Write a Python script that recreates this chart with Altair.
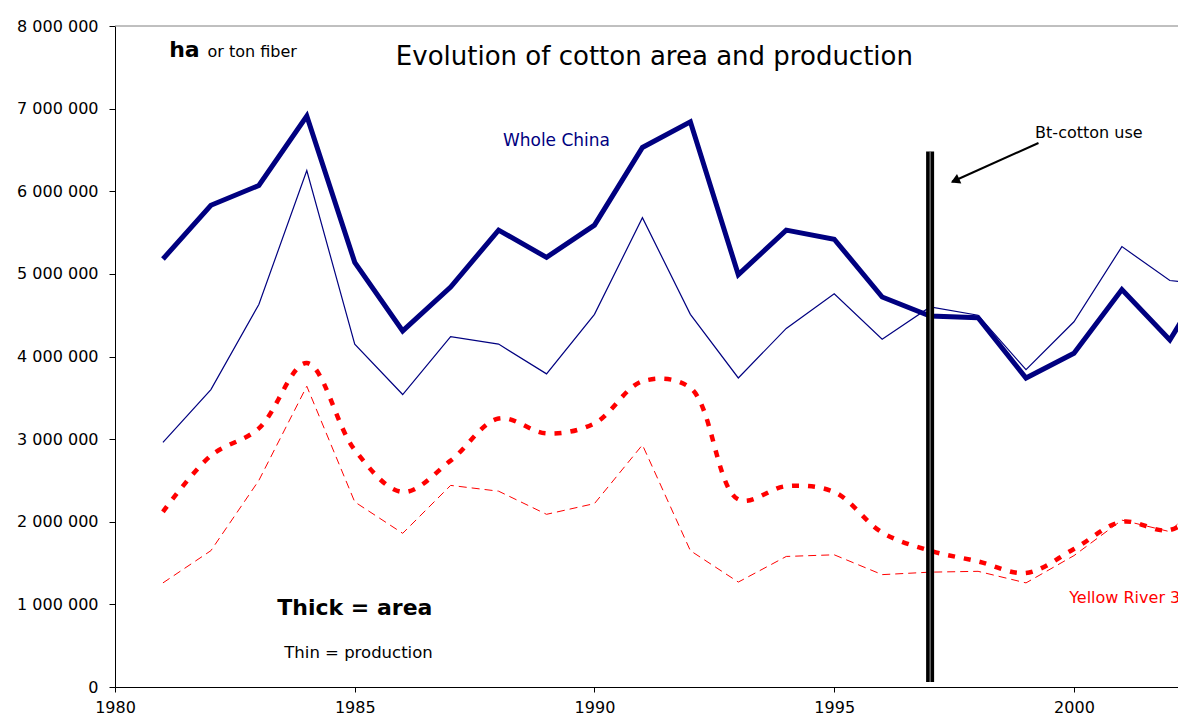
import altair as alt
import pandas as pd

# ---------------- data ----------------
years = list(range(1981, 2004))
china_area = [5.18, 5.83, 6.07, 6.91, 5.14, 4.31, 4.84, 5.53, 5.20, 5.59, 6.53, 6.84,
              4.99, 5.53, 5.42, 4.72, 4.49, 4.47, 3.74, 4.04, 4.81, 4.20, 5.15]
china_prod = [2.96, 3.60, 4.63, 6.25, 4.15, 3.54, 4.24, 4.15, 3.79, 4.51, 5.68, 4.51,
              3.74, 4.34, 4.76, 4.21, 4.60, 4.50, 3.84, 4.42, 5.33, 4.92, 4.86]
yr_area = [2.12, 2.80, 3.13, 3.92, 2.87, 2.36, 2.74, 3.25, 3.07, 3.19, 3.70, 3.62,
           2.27, 2.43, 2.36, 1.87, 1.65, 1.52, 1.38, 1.67, 2.00, 1.90, 2.30]
yr_prod = [1.26, 1.65, 2.50, 3.64, 2.24, 1.86, 2.44, 2.37, 2.09, 2.22, 2.93, 1.65,
           1.27, 1.58, 1.60, 1.36, 1.39, 1.40, 1.26, 1.59, 2.02, 1.88, 2.45]
x_ticks = [1980, 1985, 1990, 1995, 2000]
y_ticks = [0, 1000000, 2000000, 3000000, 4000000, 5000000, 6000000, 7000000, 8000000]
bt_year = 1997

FONT = "DejaVu Sans"
NAVY = "#000080"
RED = "#FF0000"

xs = alt.Scale(domain=[1980, 2002.17], nice=False, zero=False)
ys = alt.Scale(domain=[0, 8000000], nice=False, zero=True)

x_axis = alt.Axis(values=x_ticks, format="d", title=None, grid=False,
                  labelFont=FONT, labelFontSize=16, labelColor="black",
                  tickColor="black", tickSize=5, domainColor="black",
                  labelPadding=7, labelFlush=False, labelOverlap=False)
y_axis = alt.Axis(values=y_ticks, title=None, grid=False,
                  labelExpr="replace(replace(format(datum.value, ',d'), ',', ' '), ',', ' ')",
                  labelFont=FONT, labelFontSize=16, labelColor="black",
                  tickColor="black", tickSize=6, domainColor="black",
                  labelPadding=11, labelOverlap=False)

X = alt.X("year:Q", scale=xs, axis=x_axis)
Y = alt.Y("value:Q", scale=ys, axis=y_axis)


def series(vals, color, width, dash=None, interp="linear"):
    df = pd.DataFrame({"year": years, "value": [v * 1e6 for v in vals]})
    kw = dict(color=color, strokeWidth=width, clip=True, interpolate=interp)
    if dash:
        kw["strokeDash"] = dash
    return alt.Chart(df).mark_line(**kw).encode(x=X, y=Y)


def label(text, year, value, size, color="black", weight="normal", align="left"):
    df = pd.DataFrame({"year": [year], "value": [value], "t": [text]})
    return alt.Chart(df).mark_text(font=FONT, fontSize=size, fontWeight=weight,
                                   color=color, align=align, baseline="alphabetic",
                                   clip=True).encode(x=X, y=Y, text="t:N")


top_line = alt.Chart(pd.DataFrame({"value": [8000000]})).mark_rule(
    color="#808080", strokeWidth=1).encode(y=Y)

bar_df = pd.DataFrame({"year": [bt_year], "value": [60000], "value2": [6480000]})
bar = alt.Chart(bar_df).mark_rule(color="black", strokeWidth=8).encode(
    x=X, y=Y, y2="value2:Q")
bar_mid = alt.Chart(bar_df).mark_rule(color="#a0a0a0", strokeWidth=1).encode(
    x=X, y=Y, y2="value2:Q")

arrow_df = pd.DataFrame({"year": [1999.26], "value": [6584000],
                         "year2": [1997.46], "value2": [6115000]})
arrow_line = alt.Chart(arrow_df).mark_rule(color="black", strokeWidth=2).encode(
    x=X, y=Y, x2="year2:Q", y2="value2:Q")
head_df = pd.DataFrame({"year": [1997.52], "value": [6128000]})
arrow_head = alt.Chart(head_df).mark_point(
    shape="triangle-up", filled=True, color="black", opacity=1, size=110,
    angle=245.6).encode(x=X, y=Y)

layers = [
    top_line,
    series(yr_prod, RED, 1, dash=[8, 5]),
    series(yr_area, RED, 4.5, dash=[7, 9], interp="catmull-rom"),
    series(china_prod, NAVY, 1.2),
    series(china_area, NAVY, 5),
    bar, bar_mid, arrow_line, arrow_head,
    label("Evolution of cotton area and production", 1991.25, 7527000, 26, align="center"),
    label("ha", 1981.13, 7624000, 22, weight="bold"),
    label("or ton fiber", 1981.93, 7624000, 16),
    label("Whole China", 1988.09, 6547000, 17, color=NAVY),
    label("Bt-cotton use", 1999.19, 6644000, 16),
    label("Thick = area", 1983.385, 866000, 22, weight="bold"),
    label("Thin = production", 1983.53, 345000, 16.5),
    label("Yellow River 3 provinces", 1999.90, 1011000, 16, color=RED),
]

chart = alt.layer(*layers).properties(
    width=1063, height=661,
    autosize=alt.AutoSizeParams(type="none"),
    padding={"left": 107, "top": 18, "right": 0, "bottom": 28},
    background="white",
).configure_view(stroke=None)

chart.save("out.html", embed_options={"renderer": "svg", "actions": False})
